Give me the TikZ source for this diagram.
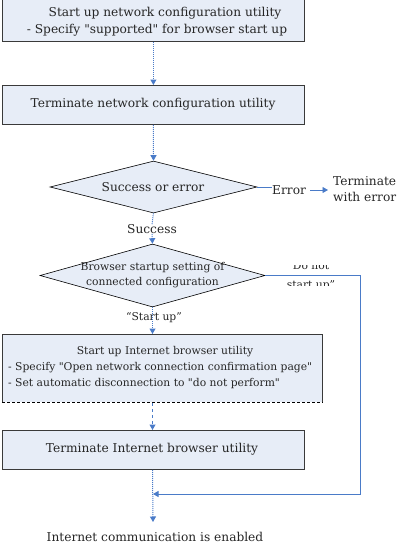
\documentclass[tikz,border=0pt]{standalone}
\usepackage{fontspec}
\setmainfont{DejaVu Serif}[Ligatures=TeXOff]
\usetikzlibrary{arrows.meta,shapes.geometric}
\definecolor{boxfill}{HTML}{E7EDF7}
\definecolor{linkblue}{HTML}{4A7BC8}
\definecolor{edgegray}{HTML}{3A3A3A}
\tikzset{
  box/.style={draw=edgegray, fill=boxfill, line width=0.8pt, rectangle, anchor=north west, inner sep=0pt},
  dec/.style={draw=black, fill=boxfill, line width=0.6pt, diamond, inner sep=0pt},
  txt/.style={inner sep=0pt, text=black!85},
  big/.style={font=\fontsize{12.2}{14}\selectfont},
  small/.style={font=\fontsize{10.75}{13}\selectfont},
  tip/.style={-{Triangle[length=5.5pt,width=6pt]}},
  conn/.style={draw=linkblue, line width=1pt, densely dotted, tip},
  connplain/.style={draw=linkblue, line width=1pt, densely dotted},
  solidlink/.style={draw=linkblue, line width=0.9pt},
}
\begin{document}
\begin{tikzpicture}[x=1pt,y=-1pt,big]
\useasboundingbox (0,0) rectangle (406,555);
% boxes
\node[box, minimum width=302pt, minimum height=43pt] (b1) at (2,-2) {};
\node[txt] (t1a) at (165,13.5) {Start up network configuration utility};
\node[txt] (t1b) at (157,30) {- Specify "supported" for browser start up};
\node[box, minimum width=302pt, minimum height=39pt] (b2) at (2,85) {};
\node[txt] (t2) at (153,104.5) {Terminate network configuration utility};
% decision 1
\node[dec, minimum width=207pt, minimum height=52pt] (d1) at (153.5,187) {};
\node[txt] (t3) at (153,187) {Success or error};
\node[txt, anchor=west] (err) at (272,190) {Error};
\node[txt, anchor=west] (term1) at (333,181) {Terminate};
\node[txt, anchor=west] (term2) at (333,197) {with error};
\node[txt] (succ) at (152,229) {Success};
% decision 2
\node[dec, minimum width=225pt, minimum height=63pt] (d2) at (152.5,275.5) {};
\node[txt, small] (t4a) at (152.5,268) {Browser startup setting of};
\node[txt, small] (t4b) at (152.5,283) {connected configuration};
\begin{scope}
  \clip (270,265) rectangle (350,285);
  \node[txt, small, align=center, font=\fontsize{10.75}{19}\selectfont] (dns) at (311,276) {Do not\\start up”};
\end{scope}
\node[txt, small] (su) at (154,318) {“Start up”};
% box 3
\node[box, minimum width=320pt, minimum height=68pt] (b3) at (2,334) {};
\draw[white, line width=1pt] (b3.south west) -- (b3.south east);
\draw[black, line width=0.8pt, densely dashed] (b3.south west) -- (b3.south east);
\node[txt, small] (t5a) at (165,352) {Start up Internet browser utility};
\node[txt, small, anchor=west] (t5b) at (8,368) {- Specify "Open network connection confirmation page"};
\node[txt, small, anchor=west] (t5c) at (8,383.5) {- Set automatic disconnection to "do not perform"};
% box 4
\node[box, minimum width=302pt, minimum height=39pt] (b4) at (2,430) {};
\node[txt] (t6) at (152,449.5) {Terminate Internet browser utility};
% end text
\node[txt] (fin) at (155,537) {Internet communication is enabled};
\coordinate (j) at (153,494);
\coordinate (c1) at (360,275.5);
\coordinate (endp) at (153,522);
\coordinate (ea) at (310,190);
\coordinate (eb) at (328,190);
% connectors
\draw[conn] (b1.south) -- (b2.north);
\draw[conn] (b2.south) -- (d1.north);
\draw[solidlink] (d1.east) -- (d1.east -| err.west);
\draw[solidlink, tip] (ea) -- (eb);
\draw[connplain] (d1.south) -- (succ.north);
\draw[conn] (succ.south) -- (d2.north);
\draw[solidlink, tip] (d2.east) -- (c1) |- (j);
\draw[conn] (d2.south) -- (b3.north -| d2.south);
\draw[draw=linkblue, line width=1pt, dashed, tip] (b3.south -| d2.south) -- (b4.north -| d2.south);
\draw[conn] (b4.south -| d2.south) -- (endp);
\end{tikzpicture}
\end{document}
